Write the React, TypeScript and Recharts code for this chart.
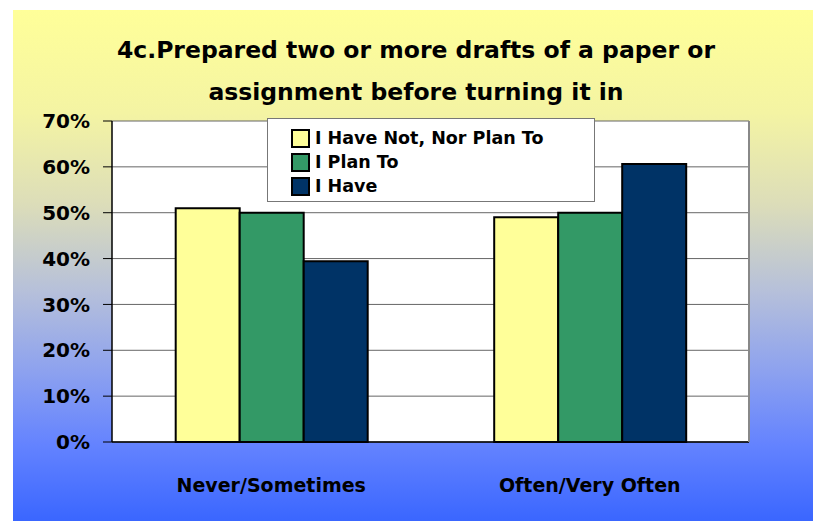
import { Bar, BarChart, CartesianGrid, Legend, XAxis, YAxis } from "recharts";

const CATEGORIES = ["Never/Sometimes", "Often/Very Often"];
const HAVE_NOT = [51, 49];
const PLAN_TO = [50, 50];
const HAVE = [39.4, 60.6];
const Y_TICKS = [0, 10, 20, 30, 40, 50, 60, 70];
const EDGE_TICKS = [0, 1, 2];
const TITLE_LINES = [
  "4c.Prepared two or more drafts of a paper or",
  "assignment before turning it in",
];

const SERIES = [
  { key: "haveNot", name: "I Have Not, Nor Plan To", color: "#FFFF99" },
  { key: "planTo", name: "I Plan To", color: "#339966" },
  { key: "have", name: "I Have", color: "#003366" },
];

const FONT = '"DejaVu Sans", sans-serif';

const data = CATEGORIES.map((name, i) => ({
  name,
  haveNot: HAVE_NOT[i],
  planTo: PLAN_TO[i],
  have: HAVE[i],
}));

function LegendBox() {
  return (
    <div
      style={{
        width: 328,
        height: 84,
        background: "#fff",
        border: "1.5px solid #777",
        boxSizing: "border-box",
        padding: "7px 0 0 23px",
        fontFamily: FONT,
        fontWeight: 700,
        fontSize: 17.5,
        color: "#000",
      }}
    >
      {SERIES.map((s) => (
        <div
          key={s.key}
          style={{ display: "flex", alignItems: "center", height: 24 }}
        >
          <span
            style={{
              display: "inline-block",
              width: 15,
              height: 15,
              background: s.color,
              border: "2px solid #000",
              marginRight: 5,
            }}
          />
          <span>{s.name}</span>
        </div>
      ))}
    </div>
  );
}

export default function App() {
  return (
    <div
      style={{
        position: "fixed",
        left: 13,
        top: 10,
        width: 800,
        height: 511,
        background:
          "linear-gradient(180deg, #FFFF99 0%, #F4F4A3 20%, #DCDDB9 38%, #B6C0DA 55%, #8FA3EE 70%, #6483FF 85%, #3A66FF 100%)",
      }}
    >
      <div
        style={{
          position: "absolute",
          left: 3,
          top: 19,
          width: 800,
          textAlign: "center",
          fontFamily: FONT,
          fontWeight: 700,
          fontSize: 23.5,
          lineHeight: "42px",
          color: "#000",
        }}
      >
        {TITLE_LINES.map((line) => (
          <div key={line}>{line}</div>
        ))}
      </div>
      <BarChart
        width={800}
        height={511}
        data={data}
        margin={{ top: 111, right: 63, bottom: 0, left: 0 }}
        barCategoryGap="20%"
        barGap={0}
        style={{ position: "absolute", left: 0, top: 0 }}
      >
        <CartesianGrid
          vertical={false}
          fill="#fff"
          stroke="#666"
          strokeWidth={1}
          xAxisId="cat"
          yAxisId="left"
        />
        <XAxis
          type="number"
          domain={[0, 2]}
          ticks={EDGE_TICKS}
          tick={false}
          height={1}
          tickSize={10}
          axisLine={{ stroke: "#000", strokeWidth: 1.5 }}
          tickLine={{ stroke: "#000", strokeWidth: 1 }}
        />
        <XAxis
          xAxisId="cat"
          dataKey="name"
          height={78}
          axisLine={false}
          tickLine={false}
          tickSize={0}
          tickMargin={36}
          tick={{ fill: "#000", fontFamily: FONT, fontWeight: 700, fontSize: 19 }}
        />
        <YAxis
          yAxisId="left"
          domain={[0, 70]}
          ticks={Y_TICKS}
          width={99}
          tickSize={9}
          tickMargin={13}
          tickFormatter={(v) => `${v}%`}
          axisLine={{ stroke: "#000", strokeWidth: 1.5 }}
          tickLine={{ stroke: "#000" }}
          tick={{ fill: "#000", fontFamily: FONT, fontWeight: 700, fontSize: 20 }}
        />
        <YAxis
          yAxisId="right"
          orientation="right"
          domain={[0, 1]}
          width={1}
          tick={false}
          tickLine={false}
          axisLine={{ stroke: "#888", strokeWidth: 2 }}
        />
        <Legend
          layout="vertical"
          align="center"
          verticalAlign="middle"
          content={() => <LegendBox />}
          wrapperStyle={{ position: "absolute", left: 254, top: 108, width: 328 }}
        />
        {SERIES.map((s) => (
          <Bar
            key={s.key}
            dataKey={s.key}
            name={s.name}
            xAxisId="cat"
            yAxisId="left"
            fill={s.color}
            stroke="#000"
            strokeWidth={2}
            isAnimationActive={false}
          />
        ))}
      </BarChart>
    </div>
  );
}
